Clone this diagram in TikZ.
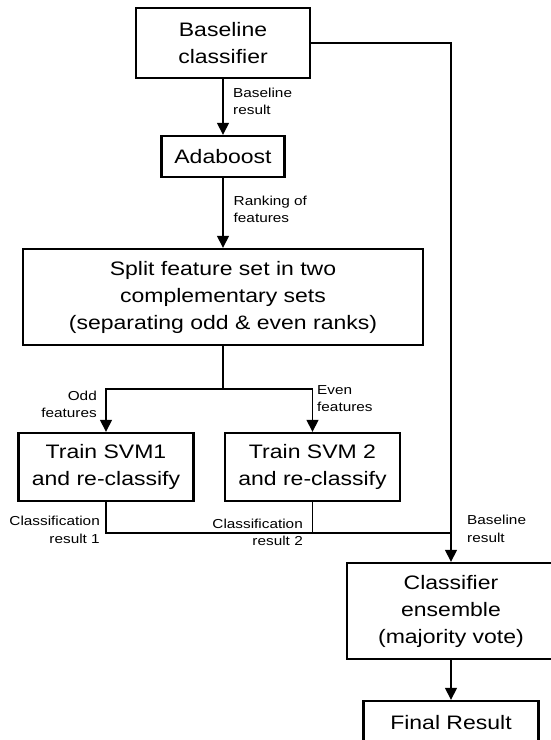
\documentclass[tikz,border=0pt]{standalone}
\usepackage{fontspec}
\setmainfont{Liberation Sans}[FakeStretch=1.18]
\usetikzlibrary{arrows.meta}
\tikzset{
  box/.style={draw, line width=2.4pt, inner sep=0pt, align=center, font=\fontsize{19.5}{27}\selectfont},
  lbl/.style={inner sep=0pt, font=\fontsize{13}{17.5}\selectfont},
  conn/.style={line width=1.5pt},
  arr/.style={conn, -{Triangle[width=12pt,length=12pt]}}
}
\begin{document}
\begin{tikzpicture}[x=1pt,y=-1pt]
\useasboundingbox (0,0) rectangle (551,740);
\clip (0,0) rectangle (551,740);
% boxes
\node[box, minimum width=174pt, minimum height=70pt] (base) at (223,43) {Baseline\\classifier};
\node[box, minimum width=123pt, minimum height=41pt] (ada) at (223,156.5) {Adaboost};
\node[box, minimum width=400pt, minimum height=96pt] (split) at (223,297) {Split feature set in two\\complementary sets\\(separating odd \& even ranks)};
\node[box, minimum width=175pt, minimum height=68pt] (svm1) at (106,467) {Train SVM1\\and re-classify};
\node[box, minimum width=175pt, minimum height=68pt] (svm2) at (312.5,467) {Train SVM 2\\and re-classify};
\node[box, minimum width=208pt, minimum height=96pt] (ens) at (451,611) {Classifier\\ensemble\\(majority vote)};
\node[box, minimum width=175pt, minimum height=44pt] (final) at (451,723) {Final Result};
% labels
\node[lbl, anchor=north west, align=left] (l1) at (233,87.5) {Baseline\\result};
\node[lbl, anchor=north west, align=left] (l2) at (233.5,195.5) {Ranking of\\features};
\node[lbl, anchor=north east, align=right] (l3) at (97,390.5) {Odd\\features};
\node[lbl, anchor=north west, align=left] (l4) at (317,385) {Even\\features};
\node[lbl, anchor=north east, align=right] (l5) at (100,516) {Classification\\result 1};
\node[lbl, anchor=north east, align=right] (l6) at (303,518.5) {Classification\\result 2};
\node[lbl, anchor=north west, align=left] (l7) at (467,515) {Baseline\\result};
% connectors
\coordinate (fork) at (223,389);
\coordinate (join) at (451,533);
\draw[arr] (base.south) -- (ada.north);
\draw[arr] (ada.south) -- (split.north);
\draw[conn] (split.south) -- (fork);
\draw[arr] (fork) -| (svm1.north);
\draw[arr] (fork) -| (svm2.north);
\draw[conn] (svm1.south) |- (join);
\draw[conn] (svm2.south) |- (join);
\draw[arr] (base.east) -| (ens.north);
\draw[arr] (ens.south) -- (final.north);
\end{tikzpicture}
\end{document}
